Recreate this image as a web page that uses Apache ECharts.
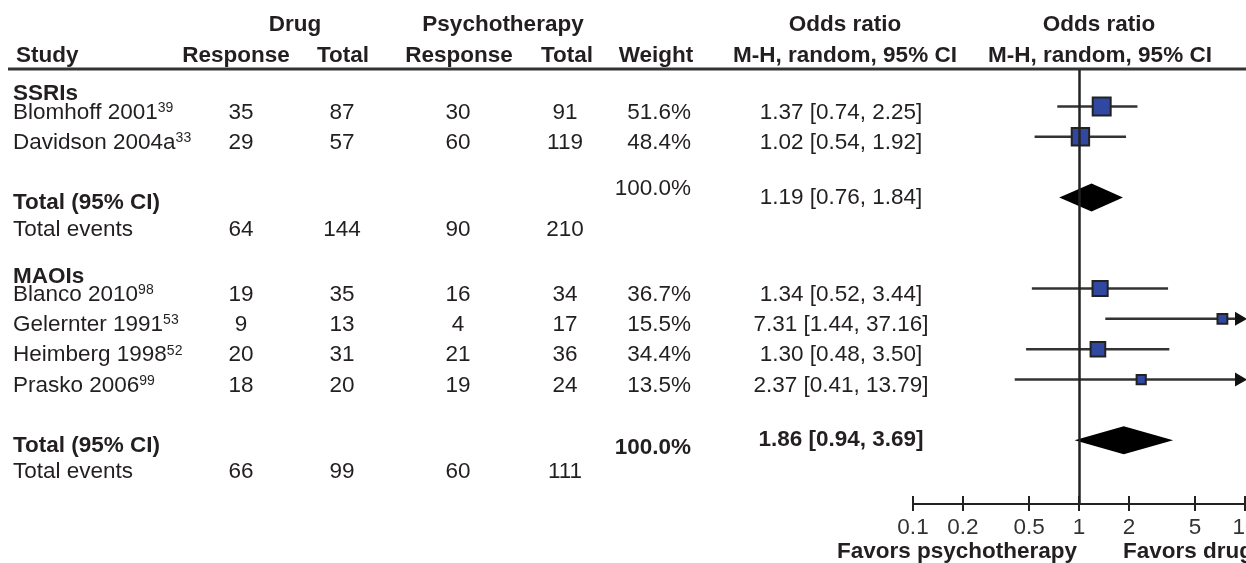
<!DOCTYPE html>
<html>
<head>
<meta charset="utf-8">
<script src="https://cdn.jsdelivr.net/npm/echarts@6/dist/echarts.min.js"></script>
<style>
  html, body { margin: 0; padding: 0; background: #fff; }
  #chart { width: 1246px; height: 563px; }
</style>
</head>
<body>
<div id="chart"></div>
<script>
// data
var groups = ['SSRIs', 'MAOIs'];
var studyNames = ['Blomhoff 2001', 'Davidson 2004a', 'Blanco 2010', 'Gelernter 1991', 'Heimberg 1998', 'Prasko 2006'];
var studyRefs = ['39', '33', '98', '53', '52', '99'];
var studyGroup = ['SSRIs', 'SSRIs', 'MAOIs', 'MAOIs', 'MAOIs', 'MAOIs'];
var drugResponse = [35, 29, 19, 9, 20, 18];
var drugTotal = [87, 57, 35, 13, 31, 20];
var psyResponse = [30, 60, 16, 4, 21, 19];
var psyTotal = [91, 119, 34, 17, 36, 24];
var weights = [51.6, 48.4, 36.7, 15.5, 34.4, 13.5];
var oddsRatio = [1.37, 1.02, 1.34, 7.31, 1.30, 2.37];
var ciLow = [0.74, 0.54, 0.52, 1.44, 0.48, 0.41];
var ciHigh = [2.25, 1.92, 3.44, 37.16, 3.50, 13.79];

var pooledWeight = [100.0, 100.0];
var pooledOR = [1.19, 1.86];
var pooledLow = [0.76, 0.94];
var pooledHigh = [1.84, 3.69];
var eventsDrug = [64, 66];
var totalDrug = [144, 99];
var eventsPsy = [90, 60];
var totalPsy = [210, 111];

var xTicks = [0.1, 0.2, 0.5, 1, 2, 5, 10];

var FONT = 'Arial, "Liberation Sans", Helvetica, sans-serif';
var INK = '#231f20';
var FS = 22.5;

// column layout (pixels)
var col = { name: 13, drugResp: 241, drugTot: 342, psyResp: 458, psyTot: 565, weight: 691, or: 841 };
// the source nudges the pooled weight a little off its row
var totalWeightNudge = [-0.3, 0.25];

function fmt2(v) { return v.toFixed(2); }
function ciText(o, l, h) { return fmt2(o) + ' [' + fmt2(l) + ', ' + fmt2(h) + ']'; }

// build rows: y is in row units on the hidden y axis
var rows = [];
var forest = [];
var pos = 1;
groups.forEach(function (g, gi) {
  rows.push({ kind: 'group', y: pos - 0.4, label: g });
  studyGroup.forEach(function (sg, i) {
    if (sg !== g) return;
    rows.push({ kind: 'study', y: pos, i: i });
    forest.push([pos, oddsRatio[i], ciLow[i], ciHigh[i], weights[i], 0]);
    pos++;
  });
  pos += 1;
  rows.push({ kind: 'total', y: pos, gi: gi });
  rows.push({ kind: 'events', y: pos + 1.05, gi: gi });
  forest.push([pos, pooledOR[gi], pooledLow[gi], pooledHigh[gi], pooledWeight[gi], 1]);
  pos += 3;
});

function txt(x, y, text, opt) {
  opt = opt || {};
  return {
    type: 'text',
    x: x, y: y,
    style: {
      text: text,
      fill: INK,
      fontSize: opt.size || FS,
      fontFamily: FONT,
      fontWeight: opt.bold ? 'bold' : 'normal',
      align: opt.align || 'center',
      verticalAlign: 'middle',
      rich: opt.rich
    }
  };
}

var supRich = {
  n: { fontSize: FS, fontFamily: FONT, fill: INK },
  s: { fontSize: 14, fontFamily: FONT, fill: INK, verticalAlign: 'top' }
};

function renderTable(params, api) {
  var r = rows[params.dataIndex];
  var kids = [];
  if (r.kind === 'group') {
    var y0 = api.coord([1, r.y])[1];
    kids.push(txt(col.name, y0, r.label, { bold: true, align: 'left' }));
  } else if (r.kind === 'study') {
    var i = r.i;
    var y1 = api.coord([1, r.y + 0.2])[1];
    kids.push(txt(col.name, y1, '{n|' + studyNames[i] + '}{s|' + studyRefs[i] + '}', { align: 'left', rich: supRich }));
    kids.push(txt(col.drugResp, y1, String(drugResponse[i])));
    kids.push(txt(col.drugTot, y1, String(drugTotal[i])));
    kids.push(txt(col.psyResp, y1, String(psyResponse[i])));
    kids.push(txt(col.psyTot, y1, String(psyTotal[i])));
    kids.push(txt(col.weight, y1, weights[i].toFixed(1) + '%', { align: 'right' }));
    kids.push(txt(col.or, y1, ciText(oddsRatio[i], ciLow[i], ciHigh[i])));
  } else if (r.kind === 'total') {
    var gi = r.gi;
    var bold = gi === 1;
    var y2 = api.coord([1, r.y + 0.18])[1];
    kids.push(txt(col.name, y2, 'Total (95% CI)', { bold: true, align: 'left' }));
    kids.push(txt(col.weight, api.coord([1, r.y + totalWeightNudge[gi]])[1], pooledWeight[gi].toFixed(1) + '%', { bold: bold, align: 'right' }));
    kids.push(txt(col.or, api.coord([1, r.y + 0.0])[1], ciText(pooledOR[gi], pooledLow[gi], pooledHigh[gi]), { bold: bold }));
  } else if (r.kind === 'events') {
    var g2 = r.gi;
    var y3 = api.coord([1, r.y])[1];
    kids.push(txt(col.name, y3, 'Total events', { align: 'left' }));
    kids.push(txt(col.drugResp, y3, String(eventsDrug[g2])));
    kids.push(txt(col.drugTot, y3, String(totalDrug[g2])));
    kids.push(txt(col.psyResp, y3, String(eventsPsy[g2])));
    kids.push(txt(col.psyTot, y3, String(totalPsy[g2])));
  }
  return { type: 'group', children: kids };
}

function renderForest(params, api) {
  var yv = api.value(0);
  var or = api.value(1), lo = api.value(2), hi = api.value(3), w = api.value(4), pooled = api.value(5);
  var xMax = 10;
  var pMid = api.coord([or, yv]);
  var pLo = api.coord([lo, yv]);
  var pHi = api.coord([Math.min(hi, xMax), yv]);
  var y = pMid[1];
  if (pooled) {
    var h = 14;
    return {
      type: 'polygon',
      shape: { points: [[pLo[0], y], [pMid[0], y - h], [pHi[0], y], [pMid[0], y + h]] },
      style: { fill: '#000' }
    };
  }
  var kids = [];
  kids.push({
    type: 'line',
    shape: { x1: pLo[0], y1: y, x2: hi > xMax ? pHi[0] - 6 : pHi[0], y2: y },
    style: { stroke: '#333', lineWidth: 2.5 }
  });
  if (hi > xMax) {
    var tip = pHi[0] + 2;
    kids.push({
      type: 'polygon',
      shape: { points: [[tip - 12, y - 7], [tip, y], [tip - 12, y + 7]] },
      style: { fill: '#111' }
    });
  }
  var s = Math.sqrt(w) * 2.5;
  kids.push({
    type: 'rect',
    shape: { x: pMid[0] - s / 2, y: y - s / 2, width: s, height: s },
    style: { fill: '#3048a0', stroke: '#222', lineWidth: 2 }
  });
  return { type: 'group', children: kids };
}

var chart = echarts.init(document.getElementById('chart'));

var xAxisBase = {
  type: 'log',
  logBase: 10,
  min: 0.1,
  max: 10,
  position: 'bottom',
  offset: 0,
  splitLine: { show: false },
  minorTick: { show: false }
};

chart.setOption({
  animation: false,
  backgroundColor: '#fff',
  grid: { left: 913, right: 1, top: 70, bottom: 59, containLabel: false, outerBoundsMode: 'none' },
  xAxis: [
    Object.assign({}, xAxisBase, {
      axisLine: { show: true, onZero: false, lineStyle: { color: '#222', width: 2 } },
      axisTick: { show: true, inside: false, length: 7, customValues: xTicks, lineStyle: { color: '#222', width: 2 } },
      axisLabel: {
        show: true, customValues: xTicks, margin: 12, hideOverlap: false,
        color: '#333', fontSize: FS, fontFamily: FONT,
        formatter: function (v) { return String(v); }
      }
    }),
    Object.assign({}, xAxisBase, {
      axisLine: { show: false, onZero: false },
      axisTick: { show: true, inside: true, length: 8, customValues: xTicks, lineStyle: { color: '#222', width: 2 } },
      axisLabel: { show: false }
    })
  ],
  yAxis: {
    type: 'value',
    inverse: true,
    min: -0.2,
    max: 14.1,
    show: false
  },
  series: [
    {
      type: 'custom',
      name: 'table',
      clip: false,
      silent: true,
      xAxisIndex: 0,
      data: rows.map(function (r) { return [1, r.y]; }),
      renderItem: renderTable
    },
    {
      type: 'custom',
      name: 'forest',
      clip: false,
      silent: true,
      xAxisIndex: 0,
      encode: { x: [1, 2, 3], y: 0 },
      data: forest,
      renderItem: renderForest,
      markLine: {
        silent: true,
        symbol: 'none',
        label: { show: false },
        lineStyle: { color: '#222', width: 2.5, type: 'solid' },
        data: [{ xAxis: 1 }]
      }
    }
  ]
});

// headers and footer captions
var xOne = chart.convertToPixel({ xAxisIndex: 0 }, 1);
var h1 = 25, h2 = 56;
function head(x, y, t, align) {
  return txt(x, y, t, { bold: true, align: align || 'center' });
}
chart.setOption({
  graphic: [
    head(295, h1, 'Drug'),
    head(503, h1, 'Psychotherapy'),
    head(845, h1, 'Odds ratio'),
    head(1099, h1, 'Odds ratio'),
    head(16, h2, 'Study', 'left'),
    head(236, h2, 'Response'),
    head(343, h2, 'Total'),
    head(459, h2, 'Response'),
    head(567, h2, 'Total'),
    head(656, h2, 'Weight'),
    head(845, h2, 'M-H, random, 95% CI'),
    head(1100, h2, 'M-H, random, 95% CI'),
    {
      type: 'line',
      shape: { x1: 8, y1: 69, x2: 1246, y2: 69 },
      style: { stroke: '#333', lineWidth: 3 }
    },
    head(xOne - 2, 552, 'Favors psychotherapy', 'right'),
    head(xOne + 44, 552, 'Favors drug', 'left')
  ]
});
</script>
</body>
</html>
